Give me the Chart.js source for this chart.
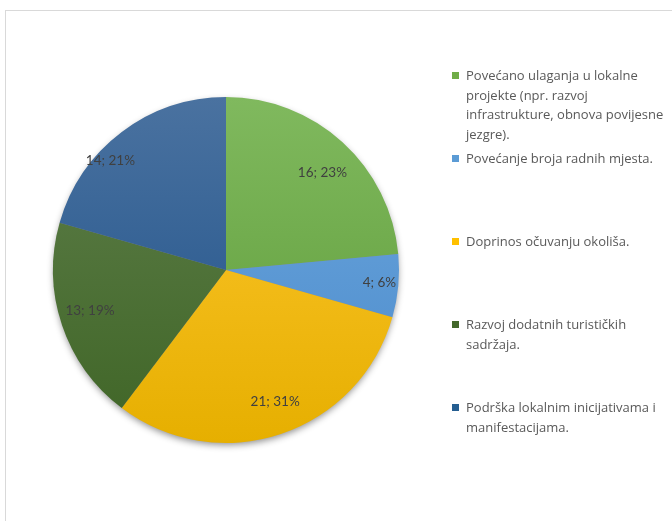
<!DOCTYPE html>
<html>
<head>
<meta charset="utf-8">
<script src="https://cdn.jsdelivr.net/npm/chart.js@4.4.1/dist/chart.umd.min.js"></script>
<style>
  html, body { margin: 0; padding: 0; background: #fff; overflow: hidden; }
  #okvir { position: absolute; left: 5px; top: 10px; width: 720px; height: 600px; border: 1px solid #d9d9d9; box-sizing: border-box; }
  #wrap { position: absolute; left: 0; top: 0; width: 672px; height: 521px; }
  #legenda { position: absolute; left: 452px; top: 66px; width: 230px; font-family: "Open Sans", "Noto Sans", sans-serif; font-size: 13px; color: #595959; white-space: nowrap; }
  .stavka { position: relative; height: 83px; padding-left: 14px; line-height: 19.5px; }
  .kvadrat { position: absolute; left: 0; top: 6px; width: 7px; height: 7px; }
</style>
</head>
<body>
<div id="okvir"></div>
<div id="wrap"><canvas id="grafikon"></canvas></div>
<div id="legenda"></div>
<script>
// --- PODACI ---
const kategorije = [
    ["Povećano ulaganja u lokalne", "projekte (npr. razvoj", "infrastrukture, obnova povijesne", "jezgre)."],
    ["Povećanje broja radnih mjesta."],
    ["Doprinos očuvanju okoliša."],
    ["Razvoj dodatnih turističkih", "sadržaja."],
    ["Podrška lokalnim inicijativama i", "manifestacijama."]
];
const vrijednosti = [16, 4, 21, 13, 14];
const postoci = ["23%", "6%", "31%", "19%", "21%"];

// boje: [svijetla (gore), tamna (dolje)]
const boje = [
    ['#80b95e', '#5d9b38'],
    ['#6ea8de', '#4a8acb'],
    ['#ffc832', '#e6af00'],
    ['#5f7f4b', '#3f6526'],
    ['#4a72a0', '#1d5088']
];
const bojeLegende = ['#70ad47', '#5b9bd5', '#ffc000', '#43682b', '#255e91'];
// smještaj oznaka (kao "best fit" u Excelu): udio polumjera i pomak kuta u stupnjevima
const udioPolumjera = [0.79, 0.89, 0.81, 0.82, 0.92];
const pomakKuta = [2.5, -0.5, -2, 2, -9.5];

// --- LEGENDA (HTML) ---
const legenda = document.getElementById('legenda');
kategorije.forEach((linije, i) => {
    const div = document.createElement('div');
    div.className = 'stavka';
    div.innerHTML = '<span class="kvadrat" style="background:' + bojeLegende[i] + '"></span>' + linije.join('<br>');
    legenda.appendChild(div);
});

// --- SJENA ISPOD PITE ---
const sjena = {
    id: 'sjena',
    beforeDatasetsDraw(chart) {
        const arc = chart.getDatasetMeta(0).data[0];
        if (!arc) return;
        const { x, y, outerRadius } = arc.getProps(['x', 'y', 'outerRadius'], true);
        const ctx = chart.ctx;
        ctx.save();
        ctx.shadowColor = 'rgba(0,0,0,0.45)';
        ctx.shadowBlur = 7;
        ctx.shadowOffsetY = 3;
        ctx.beginPath();
        ctx.arc(x, y, outerRadius - 1, 0, Math.PI * 2);
        ctx.fillStyle = '#888';
        ctx.fill();
        ctx.restore();
    }
};

// --- OZNAKE PODATAKA ---
const oznake = {
    id: 'oznake',
    afterDatasetsDraw(chart) {
        const ctx = chart.ctx;
        ctx.save();
        ctx.font = '13.5px Lato, "Noto Sans", sans-serif';
        ctx.fillStyle = '#404040';
        ctx.textAlign = 'center';
        ctx.textBaseline = 'middle';
        chart.getDatasetMeta(0).data.forEach((arc, i) => {
            const p = arc.getProps(['x', 'y', 'startAngle', 'endAngle', 'outerRadius'], true);
            const kut = (p.startAngle + p.endAngle) / 2 + pomakKuta[i] * Math.PI / 180;
            const r = p.outerRadius * udioPolumjera[i];
            ctx.fillText(vrijednosti[i] + '; ' + postoci[i], p.x + Math.cos(kut) * r, p.y + Math.sin(kut) * r);
        });
        ctx.restore();
    }
};

function gradijent(context) {
    const chart = context.chart;
    const area = chart.chartArea;
    if (!area) return bojeLegende[context.dataIndex];
    const par = boje[context.dataIndex];
    const g = chart.ctx.createLinearGradient(0, area.top, 0, area.bottom);
    g.addColorStop(0, par[0]);
    g.addColorStop(1, par[1]);
    return g;
}

new Chart(document.getElementById('grafikon'), {
    type: 'pie',
    data: {
        labels: kategorije.map(l => l.join(' ')),
        datasets: [{
            data: vrijednosti,
            backgroundColor: gradijent,
            borderWidth: 0
        }]
    },
    options: {
        responsive: true,
        maintainAspectRatio: false,
        animation: false,
        layout: { padding: { left: 53, top: 97, right: 273, bottom: 78 } },
        plugins: {
            legend: { display: false },
            tooltip: { enabled: false }
        }
    },
    plugins: [sjena, oznake]
});
</script>
</body>
</html>
